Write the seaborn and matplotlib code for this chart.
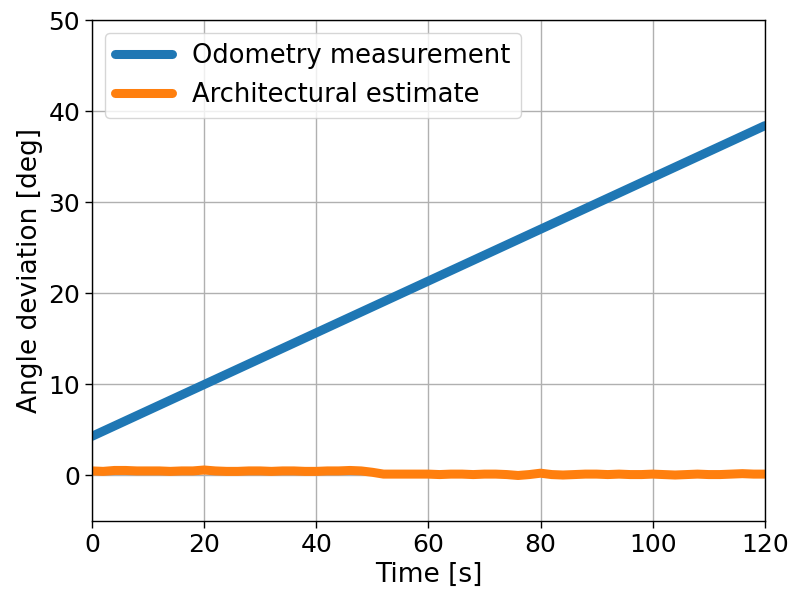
import matplotlib
matplotlib.use("Agg")
import matplotlib.pyplot as plt
import seaborn as sns
import pandas as pd

odo_time = [0, 120]
odo_angle = [4.3, 38.4]

arch_time = list(range(0, 121, 2))
arch_angle = [0.5, 0.45, 0.55, 0.55, 0.5, 0.5, 0.5, 0.45, 0.5, 0.5,
              0.6, 0.5, 0.45, 0.45, 0.5, 0.5, 0.45, 0.5, 0.5, 0.45,
              0.45, 0.5, 0.5, 0.55, 0.5, 0.35, 0.15, 0.15, 0.15, 0.15,
              0.15, 0.1, 0.15, 0.15, 0.1, 0.15, 0.15, 0.1, 0.0, 0.1,
              0.25, 0.1, 0.05, 0.1, 0.15, 0.15, 0.1, 0.15, 0.1, 0.1,
              0.15, 0.1, 0.05, 0.1, 0.15, 0.1, 0.1, 0.15, 0.2, 0.15, 0.15]

sns.set_style("ticks")
plt.rcParams.update({"font.size": 18, "font.family": ["DejaVu Sans"],
                     "text.color": "black", "axes.labelcolor": "black",
                     "xtick.color": "black", "ytick.color": "black"})

fig = plt.figure(figsize=(7.95, 5.96), dpi=100)
ax = fig.add_axes([0.1157, 0.1258, 0.8463, 0.8406])

df_odo = pd.DataFrame({"t": odo_time, "a": odo_angle})
df_arch = pd.DataFrame({"t": arch_time, "a": arch_angle})
sns.lineplot(data=df_odo, x="t", y="a", ax=ax, color="#1f77b4", linewidth=6.5,
             label="Odometry measurement")
sns.lineplot(data=df_arch, x="t", y="a", ax=ax, color="#ff7f0e", linewidth=6.5,
             label="Architectural estimate")

ax.set_xlim(0, 120)
ax.set_ylim(-5, 50)
ax.set_xticks([0, 20, 40, 60, 80, 100, 120])
ax.set_yticks([0, 10, 20, 30, 40, 50])
ax.grid(True, color="#b0b0b0", linewidth=1)
ax.set_xlabel("Time [s]", fontsize=19)
ax.set_ylabel("Angle deviation [deg]", fontsize=19)
ax.tick_params(labelsize=18, direction="out", length=5, width=1, colors="black")
for s in ax.spines.values():
    s.set_color("black")
    s.set_linewidth(1)
leg = ax.legend(loc="upper left", fontsize=18.5, frameon=True, fancybox=True,
                framealpha=0.8, handlelength=2.2)
for t in leg.get_texts():
    t.set_color("black")
fig.savefig("out.png", dpi=100)
